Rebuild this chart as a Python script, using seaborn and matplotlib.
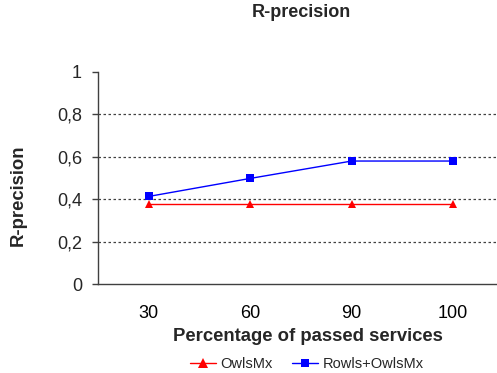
import matplotlib
matplotlib.use("Agg")
import matplotlib.pyplot as plt
from matplotlib.ticker import FixedLocator, FuncFormatter
from matplotlib.lines import Line2D
import seaborn as sns
import pandas as pd

categories = ["30", "60", "90", "100"]
owlsmx = [0.375, 0.375, 0.375, 0.375]
rowls_owlsmx = [0.413, 0.498, 0.580, 0.580]
series_names = ["OwlsMx", "Rowls+OwlsMx"]

sns.set_style("white")
plt.rcParams["font.family"] = ["Liberation Sans", "DejaVu Sans"]

rows = []
for name, vals in zip(series_names, [owlsmx, rowls_owlsmx]):
    for i, (c, v) in enumerate(zip(categories, vals)):
        rows.append({"pos": i, "category": c, "value": v, "series": name})
df = pd.DataFrame(rows)

fig = plt.figure(figsize=(4.97, 3.73), dpi=100)
ax = fig.add_axes([0.197, 0.2386, 0.817, 0.5684])

sns.lineplot(
    data=df, x="pos", y="value", hue="series", style="series",
    palette={"OwlsMx": "#ff0000", "Rowls+OwlsMx": "#0000ff"},
    markers={"OwlsMx": "^", "Rowls+OwlsMx": "s"},
    dashes=False, markersize=6, linewidth=1, markeredgewidth=0,
    ax=ax, legend=False,
)

ax.set_xlim(-0.5, len(categories) - 0.5)
ax.set_ylim(0, 1)
ax.set_xticks(range(len(categories)))
ax.set_xticklabels(categories)
ax.xaxis.set_minor_locator(FixedLocator([i - 0.5 for i in range(len(categories) + 1)]))
ax.tick_params(axis="x", which="major", length=0, labelsize=13, pad=15, colors="black")
ax.tick_params(axis="x", which="minor", length=4.5, width=1, color="#404040", direction="out")
ax.set_yticks([0, 0.2, 0.4, 0.6, 0.8, 1.0])
ax.yaxis.set_major_formatter(FuncFormatter(lambda v, _: ("%g" % round(v, 1)).replace(".", ",")))
ax.tick_params(axis="y", length=4.5, width=1, color="#404040", direction="out",
               labelsize=13, pad=7, left=True)

for y in [0.2, 0.4, 0.6, 0.8]:
    ax.axhline(y, color="#404040", linestyle=(0, (2, 2)), linewidth=0.9, zorder=0)

for s in ["top", "right"]:
    ax.spines[s].set_visible(False)
for s in ["left", "bottom"]:
    ax.spines[s].set_color("#404040")
    ax.spines[s].set_linewidth(1)

ax.set_xlabel("Percentage of passed services", fontsize=13.3, fontweight="bold")
ax.xaxis.set_label_coords((308 - 98) / 406, -(336 - 284) / 212)
ax.xaxis.label.set_va("center")
ax.set_ylabel("R-precision", fontsize=13.3, fontweight="bold")
ax.yaxis.set_label_coords(-(98 - 18.5) / 406, (284 - 195) / 212)
ax.yaxis.label.set_va("center")
fig.text(0.606, 0.967, "R-precision", ha="center", va="center", fontsize=13, fontweight="bold")

handles = [
    Line2D([], [], color="#ff0000", marker="^", markersize=6.5, markeredgewidth=0, linewidth=1),
    Line2D([], [], color="#0000ff", marker="s", markersize=5.5, markeredgewidth=0, linewidth=1),
]
fig.legend(handles, series_names, loc="center", bbox_to_anchor=(0.617, 0.024), ncol=2,
           frameon=False, fontsize=10.5, handlelength=1.8, handletextpad=0.3, columnspacing=1.3)

fig.savefig("out.png", dpi=100)
